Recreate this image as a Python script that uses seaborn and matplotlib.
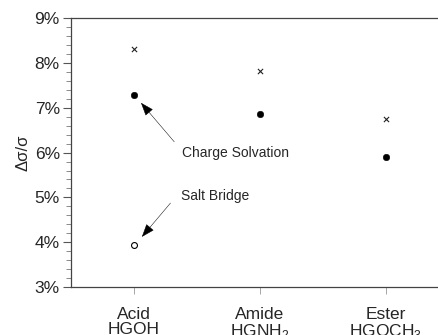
import seaborn as sns
import matplotlib.pyplot as plt
import pandas as pd
from matplotlib.ticker import MultipleLocator, PercentFormatter

# data (percent)
categorias = ["Acid\nHGOH", "Amide\nHGNH$_2$", "Ester\nHGOCH$_3$"]
cruces = [8.31, 7.82, 6.74]
puntos = [7.29, 6.87, 5.91]
circulo_cat = ["Acid\nHGOH"]
circulo = [3.93]

sns.set_style("ticks")
plt.rcParams['font.family'] = ['Liberation Sans', 'DejaVu Sans']
plt.rcParams['mathtext.fontset'] = 'custom'
plt.rcParams['mathtext.rm'] = 'Liberation Sans'

df = pd.DataFrame({"cat": categorias, "x": cruces, "dot": puntos})
df_c = pd.DataFrame({"cat": circulo_cat, "v": circulo})

fig = plt.figure(figsize=(4.38, 3.35), dpi=100)
ax = fig.add_axes([0.162, 0.143, 0.863, 0.803])

sns.scatterplot(data=df, x="cat", y="x", marker="x", s=14, color="#222222",
                linewidth=0.8, ax=ax)
sns.scatterplot(data=df, x="cat", y="dot", marker="o", s=22, color="black",
                edgecolor="black", ax=ax)
sns.scatterplot(data=df_c, x="cat", y="v", marker="o", s=18, facecolor="white",
                edgecolor="black", linewidth=0.8, ax=ax)

ax.set_xlim(-0.5, 2.5)
ax.set_ylim(3, 9)
ax.yaxis.set_major_locator(MultipleLocator(1))
ax.yaxis.set_minor_locator(MultipleLocator(0.2))
ax.yaxis.set_major_formatter(PercentFormatter(decimals=0))
ax.tick_params(axis="y", which="major", length=6, width=0.8, labelsize=12.5, pad=2, color="#555555")
ax.tick_params(axis="y", which="minor", length=3.5, width=0.6, color="#777777")
ax.tick_params(axis="x", length=5, width=0.6, color="#999999", labelsize=12.5, pad=9.5)
for lab in ax.get_xticklabels():
    lab.set_linespacing(0.95)

ax.set_xlabel("")
ax.set_ylabel("Δσ/σ", fontsize=12, labelpad=3)

for s in ["left", "top", "bottom"]:
    ax.spines[s].set_color("#444444")
    ax.spines[s].set_linewidth(0.9)
ax.spines["right"].set_visible(False)

flecha = dict(arrowstyle="-|>,head_length=0.6,head_width=0.22", color="black",
              lw=0.35, mutation_scale=14, shrinkA=0, shrinkB=0)
ax.annotate("", xy=(0.056, 7.11), xytext=(0.32, 6.24), arrowprops=flecha)
ax.annotate("", xy=(0.063, 4.12), xytext=(0.29, 4.875), arrowprops=flecha)
ax.text(0.38, 6.0, "Charge Solvation", fontsize=10, ha="left", va="center")
ax.text(0.373, 5.03, "Salt Bridge", fontsize=10, ha="left", va="center")

plt.savefig("out.png", dpi=100)
